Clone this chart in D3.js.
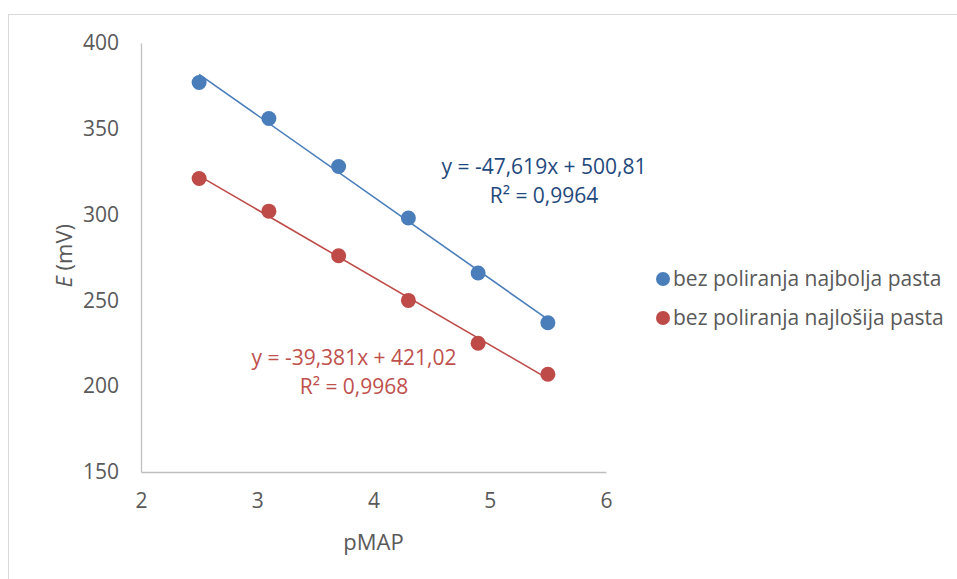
<!DOCTYPE html>
<html>
<head>
<meta charset="utf-8">
<script src="https://cdn.jsdelivr.net/npm/d3@7"></script>
<style>
  body { margin: 0; background: #fff; }
  svg text { font-family: "Open Sans", Lato, sans-serif; }
</style>
</head>
<body>
<svg></svg>
<script>
var width = 957,
    height = 579;

// data
var pMAP = [2.5, 3.1, 3.7, 4.3, 4.9, 5.5];
var najbolja = [377, 356, 328, 298, 266, 237];
var najlosija = [321, 302, 276, 250, 225, 207];
var seriesNames = ["bez poliranja najbolja pasta", "bez poliranja najlošija pasta"];
var trendSlope = [-47.619, -39.381];
var trendIntercept = [500.81, 421.02];
var trendR2 = ["0,9964", "0,9968"];
var xTicks = [2, 3, 4, 5, 6];
var yTicks = [150, 200, 250, 300, 350, 400];

var colors = ["#4a7ebb", "#be4b48"];
var labelColors = ["#1f497d", "#c0504d"];

var svg = d3.select("svg")
    .attr("width", width)
    .attr("height", height);

// chart border
svg.append("rect")
    .attr("x", 8.5).attr("y", 14.5)
    .attr("width", 960).attr("height", 600)
    .attr("fill", "none")
    .attr("stroke", "#d9d9d9");

var x = d3.scaleLinear().domain([2, 6]).range([141, 606]);
var y = d3.scaleLinear().domain([150, 400]).range([472, 43]);

// axes
var xAxis = svg.append("g")
    .attr("transform", "translate(0," + y(150) + ")")
    .call(d3.axisBottom(x).tickValues(xTicks).tickFormat(d3.format("d"))
      .tickSize(0).tickPadding(21));
var yAxis = svg.append("g")
    .attr("transform", "translate(" + x(2) + ",0)")
    .call(d3.axisLeft(y).tickValues(yTicks).tickSize(0).tickPadding(22));

[xAxis, yAxis].forEach(function(a) {
  a.select(".domain").attr("stroke", "#bfbfbf").attr("stroke-width", 1.3);
  a.selectAll("text")
      .style("font-size", "21px")
      .style("font-family", "'Open Sans', sans-serif")
      .style("fill", "#595959");
});

svg.append("text")
    .attr("x", (x(2) + x(6)) / 2)
    .attr("y", 550)
    .attr("text-anchor", "middle")
    .style("font-size", "22px")
    .style("fill", "#595959")
    .text("pMAP");

var yTitle = svg.append("text")
    .attr("transform", "translate(72," + y(276) + ") rotate(-90)")
    .attr("text-anchor", "middle")
    .style("font-size", "22px")
    .style("fill", "#595959");
yTitle.append("tspan").style("font-style", "italic").text("E");
yTitle.append("tspan").text(" (mV)");

var allSeries = [najbolja, najlosija];

allSeries.forEach(function(vals, i) {
  // linear trendline
  var x0 = d3.min(pMAP), x1 = d3.max(pMAP);
  svg.append("line")
      .attr("x1", x(x0)).attr("y1", y(trendSlope[i] * x0 + trendIntercept[i]))
      .attr("x2", x(x1)).attr("y2", y(trendSlope[i] * x1 + trendIntercept[i]))
      .attr("stroke", colors[i])
      .attr("stroke-width", 1.6);

  svg.selectAll(".dot" + i)
      .data(pMAP)
    .enter().append("circle")
      .attr("class", "dot" + i)
      .attr("cx", function(d) { return x(d); })
      .attr("cy", function(d, j) { return y(vals[j]); })
      .attr("r", 7.5)
      .attr("fill", colors[i]);
});

// trendline equations
var eqPos = [[544, 174], [354, 365]];
allSeries.forEach(function(vals, i) {
  var t = svg.append("text")
      .attr("text-anchor", "middle")
      .style("font-size", "21px")
      .style("fill", labelColors[i]);
  var b = trendIntercept[i].toFixed(2).replace(".", ",");
  var m = trendSlope[i].toFixed(3).replace(".", ",");
  t.append("tspan").attr("x", eqPos[i][0]).attr("y", eqPos[i][1])
      .text("y = " + m + "x + " + b);
  t.append("tspan").attr("x", eqPos[i][0]).attr("y", eqPos[i][1] + 29)
      .text("R² = " + trendR2[i]);
});

// legend
var legend = svg.selectAll(".legend")
    .data(seriesNames)
  .enter().append("g")
    .attr("class", "legend")
    .attr("transform", function(d, i) { return "translate(663," + (279 + i * 39) + ")"; });

legend.append("circle")
    .attr("r", 7)
    .attr("fill", function(d, i) { return colors[i]; });

legend.append("text")
    .attr("x", 10)
    .attr("y", 7)
    .style("font-size", "21px")
    .style("fill", "#595959")
    .text(function(d) { return d; });
</script>
</body>
</html>
